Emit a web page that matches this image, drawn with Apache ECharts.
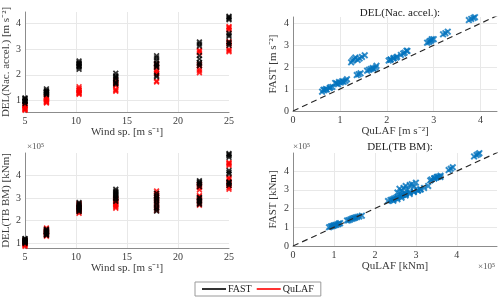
<!DOCTYPE html>
<html><head><meta charset="utf-8">
<script src="https://cdn.jsdelivr.net/npm/echarts@6/dist/echarts.min.js"></script>
<style>html,body{margin:0;padding:0;background:#fff}#c{width:500px;height:300px}</style>
</head><body><div id="c"></div>
<script>
// Wind speeds (m/s) of the load cases
const windSpeeds = [5, 7.1, 10.3, 13.9, 17.9, 22.1, 25];

// DEL(Nac. accel.) [m s^-2], per wind speed, paired QuLAF / FAST
const nacQuLAF = [
  [0.62, 0.65, 0.67, 0.70, 0.72, 0.78, 0.80, 0.84],
  [0.90, 0.93, 0.96, 0.98, 1.02, 1.05, 1.08, 1.12, 1.15],
  [1.24, 1.27, 1.30, 1.33, 1.38, 1.42, 1.47, 1.53],
  [1.36, 1.40, 1.44, 1.58, 1.62, 1.66, 1.70, 1.78],
  [1.72, 1.76, 2.04, 2.08, 2.14, 2.20, 2.30, 2.38, 2.44],
  [2.08, 2.15, 2.22, 2.35, 2.42, 2.86, 2.92, 2.96],
  [2.90, 2.95, 3.00, 3.20, 3.25, 3.30, 3.75, 3.80, 3.85, 3.88]
];
const nacFAST = [
  [0.88, 0.97, 0.95, 1.00, 0.98, 1.05, 1.08, 1.10],
  [1.28, 1.25, 1.22, 1.32, 1.30, 1.36, 1.33, 1.38, 1.45],
  [2.22, 2.30, 2.37, 2.44, 2.33, 2.40, 2.47, 2.54],
  [1.64, 1.68, 1.72, 1.84, 1.88, 1.92, 1.96, 2.06],
  [1.92, 1.98, 2.30, 2.34, 2.40, 2.44, 2.56, 2.66, 2.74],
  [2.35, 2.42, 2.48, 2.62, 2.75, 3.12, 3.20, 3.28],
  [3.15, 3.22, 3.28, 3.50, 3.55, 3.62, 4.15, 4.20, 4.25, 4.28]
];

// DEL(TB BM) [kNm] x 1e5, per wind speed, paired QuLAF / FAST
const tbQuLAF = [
  [0.88, 0.92, 0.95, 0.98, 1.00, 1.03, 1.06, 1.10, 1.12, 1.15],
  [1.32, 1.36, 1.40, 1.44, 1.47, 1.50, 1.53, 1.57, 1.62, 1.68],
  [2.32, 2.38, 2.42, 2.46, 2.50, 2.55, 2.60, 2.65, 2.70, 2.75],
  [2.55, 2.60, 2.65, 2.70, 2.75, 2.80, 2.85, 2.90, 2.95, 3.00],
  [2.45, 2.55, 2.65, 2.75, 2.85, 2.95, 3.05, 3.12, 3.20, 3.30],
  [2.68, 2.75, 2.85, 2.95, 3.05, 3.10, 3.35, 3.45, 3.50, 3.55, 3.60],
  [3.38, 3.45, 3.52, 3.60, 3.80, 3.85, 3.90, 4.42, 4.48, 4.52, 4.55]
];
const tbFAST = [
  [1.00, 1.04, 1.06, 1.08, 1.10, 1.12, 1.14, 1.16, 1.20, 1.22],
  [1.36, 1.38, 1.42, 1.45, 1.48, 1.50, 1.52, 1.55, 1.58, 1.62],
  [2.40, 2.45, 2.48, 2.52, 2.56, 2.60, 2.65, 2.70, 2.74, 2.80],
  [2.85, 3.05, 2.95, 3.10, 3.20, 3.00, 3.25, 3.30, 3.15, 3.38],
  [2.42, 2.50, 2.58, 2.70, 2.78, 2.88, 2.95, 3.02, 3.10, 3.20],
  [2.72, 2.78, 2.85, 2.90, 2.98, 3.02, 3.50, 3.60, 3.65, 3.70, 3.75],
  [3.55, 3.62, 3.70, 3.68, 4.05, 4.12, 4.20, 4.78, 4.85, 4.90, 4.95]
];

// Tick labels
const windTicks = [5, 10, 15, 20, 25];
const nacTicks = [1, 2, 3, 4];
const nacCrossTicks = [0, 1, 2, 3, 4];
const tbTicks = [1, 2, 3, 4];
const tbCrossTicks = [0, 1, 2, 3, 4];
// 1:1 reference line ends
const nacDiag = [0, 4.4];
const tbDiag = [0, 5];

const FONT = 'Liberation Serif';
const XSYM = 'path://M2,0L5,3L8,0L10,2L7,5L10,8L8,10L5,7L2,10L0,8L3,5L0,2Z';
const AX = '#8c8c8c', GRID = '#e8e8e8', TXT = '#3a3a3a';

function colPoints(vals) { return windSpeeds.flatMap((w, i) => vals[i].map(v => [w, v])); }
function pairPoints(q, f) { return windSpeeds.flatMap((w, i) => q[i].map((v, j) => [v, f[i][j]])); }

function xAxis(gi, min, max, ticks, name) {
  return {
    type: 'value', gridIndex: gi, min: min, max: max, splitNumber: 4,
    name: name, nameLocation: 'middle', nameGap: 13,
    nameTextStyle: { fontFamily: FONT, fontSize: 11, color: TXT },
    axisLine: { show: true, onZero: false, lineStyle: { color: AX, width: 1 } },
    axisTick: { show: false },
    axisLabel: { customValues: ticks, fontFamily: FONT, fontSize: 10, color: TXT, margin: 4 },
    splitLine: { show: true, showMinLine: false, showMaxLine: false, lineStyle: { color: GRID, width: 1 } }
  };
}
function yAxis(gi, min, max, ticks, name, gap) {
  return {
    type: 'value', gridIndex: gi, min: min, max: max, splitNumber: 5,
    name: name, nameLocation: 'middle', nameGap: gap,
    nameTextStyle: { fontFamily: FONT, fontSize: 11, color: TXT },
    axisLine: { show: true, onZero: false, lineStyle: { color: AX, width: 1 } },
    axisTick: { show: false },
    axisLabel: { customValues: ticks, fontFamily: FONT, fontSize: 10, color: TXT, margin: 4 },
    splitLine: { show: true, showMinLine: false, showMaxLine: false, lineStyle: { color: GRID, width: 1 } }
  };
}
function colSeries(name, gi, vals, color) {
  return { name: name, type: 'scatter', xAxisIndex: gi, yAxisIndex: gi, data: colPoints(vals),
    symbol: XSYM, symbolSize: 6, itemStyle: { color: color }, silent: true, animation: false };
}
function pairSeries(gi, q, f) {
  return { name: 'pairs' + gi, type: 'scatter', xAxisIndex: gi, yAxisIndex: gi, data: pairPoints(q, f),
    symbol: XSYM, symbolSize: 7, itemStyle: { color: '#0072BD' }, silent: true, animation: false };
}
function diagSeries(gi, ends) {
  return { name: 'diag' + gi, type: 'line', xAxisIndex: gi, yAxisIndex: gi, data: ends.map(v => [v, v]),
    symbol: 'none', lineStyle: { color: '#262626', width: 1.2, type: [6, 4] }, silent: true, animation: false, z: 3 };
}

const chart = echarts.init(document.getElementById('c'), null, { renderer: 'canvas' });
chart.setOption({
  animation: false,
  backgroundColor: '#fff',
  title: [
    { text: 'DEL(Nac. accel.):', left: 395, top: 3, textAlign: 'center',
      textStyle: { fontFamily: FONT, fontSize: 11, fontWeight: 'normal', color: '#222' } },
    { text: 'DEL(TB BM):', left: 395, top: 137, textAlign: 'center',
      textStyle: { fontFamily: FONT, fontSize: 11, fontWeight: 'normal', color: '#222' } }
  ],
  grid: [
    { left: 25, top: 12, width: 204, height: 100 },
    { left: 293, top: 17, width: 204, height: 94 },
    { left: 25, top: 153, width: 204, height: 95 },
    { left: 293, top: 153, width: 204, height: 93 }
  ],
  xAxis: [
    xAxis(0, 5, 25, windTicks, 'Wind sp. [m s⁻¹]'),
    xAxis(1, 0, 4.35, nacCrossTicks, 'QuLAF [m s⁻²]'),
    xAxis(2, 5, 25, windTicks, 'Wind sp. [m s⁻¹]'),
    xAxis(3, 0, 4.98, tbCrossTicks, 'QuLAF [kNm]')
  ],
  yAxis: [
    yAxis(0, 0.55, 4.45, nacTicks, 'DEL(Nac. accel.) [m s⁻²]', 12),
    yAxis(1, 0, 4.29, nacCrossTicks, 'FAST [m s⁻²]', 14),
    yAxis(2, 0.8, 4.97, tbTicks, 'DEL(TB BM) [kNm]', 12),
    yAxis(3, 0, 4.96, tbCrossTicks, 'FAST [kNm]', 14)
  ],
  legend: {
    data: ['FAST', 'QuLAF'], left: 195, top: 282, icon: 'rect', itemWidth: 24, itemHeight: 2,
    itemGap: 5, padding: [2, 7, 2, 7], borderColor: '#9a9a9a', borderWidth: 1, borderRadius: 0,
    textStyle: { fontFamily: FONT, fontSize: 10, color: '#222', padding: [0, 0, 0, -3] }, selectedMode: false
  },
  graphic: [
    { type: 'text', left: 27, top: 142, style: { text: '×10⁵', font: '9px ' + FONT, fill: '#555' } },
    { type: 'text', left: 293, top: 142, style: { text: '×10⁵', font: '9px ' + FONT, fill: '#555' } },
    { type: 'text', left: 478, top: 262, style: { text: '×10⁵', font: '9px ' + FONT, fill: '#555' } }
  ],
  series: [
    colSeries('QuLAF', 0, nacQuLAF, '#ff0000'),
    colSeries('FAST', 0, nacFAST, '#000000'),
    diagSeries(1, nacDiag),
    pairSeries(1, nacQuLAF, nacFAST),
    colSeries('QuLAF', 2, tbQuLAF, '#ff0000'),
    colSeries('FAST', 2, tbFAST, '#000000'),
    diagSeries(3, tbDiag),
    pairSeries(3, tbQuLAF, tbFAST)
  ]
});
</script></body></html>
